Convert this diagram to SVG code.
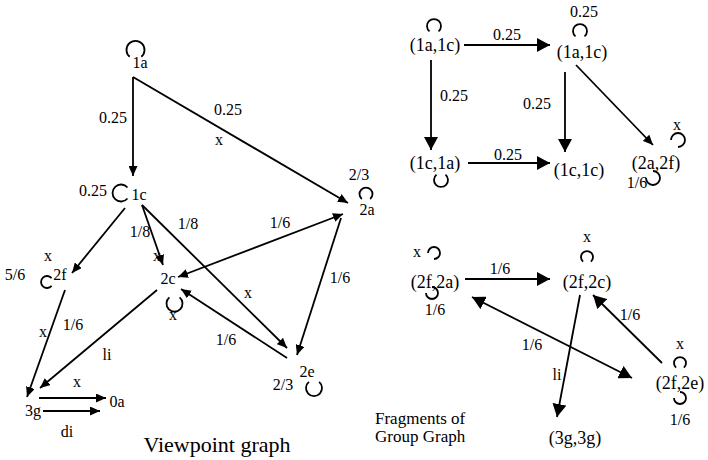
<svg xmlns="http://www.w3.org/2000/svg" width="708" height="460" viewBox="0 0 708 460" font-family="'Liberation Serif', 'DejaVu Serif', serif">
<defs>
<marker id="a" markerWidth="10" markerHeight="9" refX="10" refY="4.5" orient="auto-start-reverse" markerUnits="userSpaceOnUse"><path d="M0,0 L10,4.5 L0,9 z" fill="#000"/></marker>
<marker id="b" markerWidth="13" markerHeight="14" refX="13" refY="7" orient="auto-start-reverse" markerUnits="userSpaceOnUse"><path d="M0,0 L13,7 L0,14 z" fill="#000"/></marker>
</defs>
<style>
text{font-family:'Liberation Serif','DejaVu Serif','Times New Roman',serif;font-size:16px;fill:#000;text-anchor:middle}
.n{font-size:18px}
.t{font-size:22px}
.l{text-anchor:start;font-size:17px}
.e{stroke:#000;stroke-width:1.8;fill:none}
.s{marker-end:url(#a)}
.d{marker-start:url(#a);marker-end:url(#a)}
.S{marker-end:url(#b)}
.D{marker-start:url(#b);marker-end:url(#b)}
.p{stroke:#000;stroke-width:1.8;fill:none}
</style>
<g id="connectors">
<path class="e s" d="M133,77 V176"/>
<path class="e s" d="M133,77 L348,203"/>
<path class="e s" d="M125,208 L72,273"/>
<path class="e s" d="M142,205 L163,265"/>
<path class="e s" d="M142,205 L287,348"/>
<path class="e d" d="M178,277 L343,214"/>
<path class="e s" d="M341,218 L297,355"/>
<path class="e s" d="M287,358 L181,289"/>
<path class="e s" d="M65,290 L27,397"/>
<path class="e s" d="M157,290 L40,388"/>
<path class="e s" d="M39,398 L106,398"/>
<path class="e s" d="M43,411 L100,411"/>
<path class="e S" d="M464,45 L550,45"/>
<path class="e S" d="M431,60 L431,150"/>
<path class="e S" d="M468,163 L550,163"/>
<path class="e S" d="M565,72 L565,152"/>
<path class="e s" d="M576,65 L653,145"/>
<path class="e S" d="M465,279 L550,279"/>
<path class="e D" d="M472,297 L632,378"/>
<path class="e S" d="M580,295 L557,417"/>
<path class="e S" d="M662,363 L593,295"/>
</g>
<g id="edge-labels">
<text x="113" y="123">0.25</text>
<text x="228" y="115">0.25</text>
<text x="219" y="145">x</text>
<text x="140" y="237">1/8</text>
<text x="188" y="229">1/8</text>
<text x="280" y="228">1/6</text>
<text x="157" y="261">x</text>
<text x="248" y="298">x</text>
<text x="340" y="283">1/6</text>
<text x="226" y="345">1/6</text>
<text x="43" y="337">x</text>
<text x="73" y="330">1/6</text>
<text x="107" y="360">li</text>
<text x="77" y="387">x</text>
<text x="67" y="437">di</text>
<text x="507" y="40">0.25</text>
<text x="454" y="101">0.25</text>
<text x="508" y="160">0.25</text>
<text x="537" y="109">0.25</text>
<text x="500" y="274">1/6</text>
<text x="532" y="350">1/6</text>
<text x="557" y="380">li</text>
<text x="630" y="320">1/6</text>
</g>
<g id="n1a"><path class="p" d="M129.7,56.8 A9,9 0 1 1 141.3,56.8"/><text x="140" y="68">1a</text></g>
<g id="n1c"><path class="p" d="M127.5,198.5 A8.5,8.5 0 1 1 127.5,187.5"/><text x="139" y="200">1c</text><text x="93" y="196">0.25</text></g>
<g id="n2a"><path class="p" d="M361.8,199 A6.5,6.5 0 1 1 370.2,199"/><text x="367" y="215">2a</text><text x="359" y="180">2/3</text></g>
<g id="n2f"><path class="p" d="M51.6,285.9 A6,6 0 1 1 51.6,278.1"/><text x="60" y="280">2f</text><text x="48" y="261">x</text><text x="15" y="280">5/6</text></g>
<g id="n2c"><path class="p" d="M179.6,297.4 A8,8 0 1 1 169.4,297.4"/><text x="168" y="284">2c</text><text x="173" y="320">x</text></g>
<g id="n2e"><path class="p" d="M319.1,381.9 A8,8 0 1 1 308.9,381.9"/><text x="307" y="377">2e</text><text x="283" y="390">2/3</text></g>
<g id="n3g"><text x="33" y="416">3g</text></g>
<g id="n0a"><text x="117" y="407">0a</text></g>
<text class="t" x="217" y="452">Viewpoint graph</text>
<g id="g1a1c"><path class="p" d="M429.5,31.4 A7,7 0 1 1 438.5,31.4"/><text class="n" x="435" y="51">(1a,1c)</text></g>
<g id="g1a1c2"><path class="p" d="M575.5,36.4 A7,7 0 1 1 584.5,36.4"/><text class="n" x="582" y="58">(1a,1c)</text><text x="584" y="17">0.25</text></g>
<g id="g1c1a"><path class="p" d="M445.5,174.6 A7,7 0 1 1 436.5,174.6"/><text class="n" x="435" y="169">(1c,1a)</text></g>
<g id="g1c1c"><text class="n" x="579" y="176">(1c,1c)</text></g>
<g id="g2a2f"><path class="p" d="M671,140 A7,7 0 1 1 678,147"/><text class="n" x="656" y="169">(2a,2f)</text><text x="677" y="130">x</text><path class="p" d="M653,171 A7,7 0 1 1 646,178"/><text x="637" y="188">1/6</text></g>
<g id="g2f2a"><path class="p" d="M428,253 A6,6 0 1 1 434,259"/><text x="417" y="257">x</text><text class="n" x="435" y="288">(2f,2a)</text><path class="p" d="M432,287 A6,6 0 1 1 426,293"/><text x="435" y="315">1/6</text></g>
<g id="g2f2c"><path class="p" d="M583.1,261.6 A6,6 0 1 1 590.9,261.6"/><text x="587" y="242">x</text><text class="n" x="587" y="288">(2f,2c)</text></g>
<g id="g2f2e"><path class="p" d="M676.1,367.6 A6,6 0 1 1 683.9,367.6"/><text x="680" y="349">x</text><text class="n" x="680" y="389">(2f,2e)</text><path class="p" d="M680,392 A6,6 0 1 1 674,398"/><text x="680" y="425">1/6</text></g>
<g id="g3g3g"><text class="n" x="575" y="444">(3g,3g)</text></g>
<text class="l" x="375" y="424">Fragments of</text>
<text class="l" x="375" y="442">Group Graph</text>
</svg>
